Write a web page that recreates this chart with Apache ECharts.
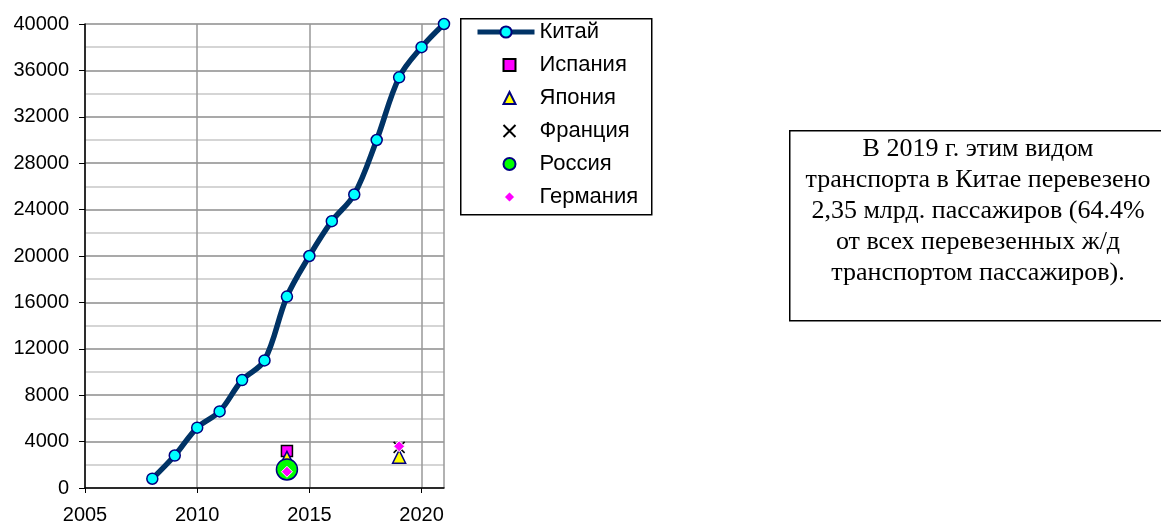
<!DOCTYPE html>
<html style="height: 100%">

<head>
    <meta charset="utf-8">
    <title>index</title>
    <style>
        html, body { margin: 0; padding: 0; background: #fff; }
        #container {
            width: 1161px;
            height: 525px;
        }
    </style>
</head>

<body>
    <div id="container"></div>
</body>
<script src="https://cdn.jsdelivr.net/npm/echarts@6/dist/echarts.min.js"></script>
<script type="text/javascript">
    // данные
    var years = [2008, 2009, 2010, 2011, 2012, 2013, 2014, 2015, 2016, 2017, 2018, 2019, 2020, 2021];
    var china = [800, 2800, 5200, 6600, 9300, 11000, 16500, 20000, 23000, 25300, 30000, 35400, 38000, 40000];

    // другие страны (2014 и 2019)
    var otherYears = [2014, 2019];
    var spain = [3200, null];
    var japan = [2600, 2700];
    var france = [null, 3500];
    var russia = [1600, null];
    var germany = [1400, 3600];

    var yTicks = [0, 40000, 4000];
    var xTicks = [2005, 2021, 5];

    var note = 'В 2019 г. этим видом\nтранспорта в Китае перевезено\n2,35 млрд. пассажиров (64.4%\nот всех перевезенных ж/д\nтранспортом пассажиров).';

    function pairs(xs, ys) {
        var out = [];
        for (var i = 0; i < xs.length; i++) {
            if (ys[i] != null) out.push([xs[i], ys[i]]);
        }
        return out;
    }

    var dom = document.getElementById("container");
    var myChart = echarts.init(dom, null, { renderer: 'canvas' });

    var font = '"Liberation Sans", Arial, sans-serif';
    var legendText = { fontFamily: font, fontSize: 22, color: '#000', lineHeight: 22 };

    var option = {
        animation: false,
        backgroundColor: '#fff',
        grid: { left: 85, right: 717, top: 24, bottom: 36 },
        // две легенды: линия отдельно, маркеры отдельно (разная ширина значка)
        legend: [
            {
                left: 475,
                top: 21,
                padding: 0,
                orient: 'vertical',
                itemWidth: 57,
                itemHeight: 14,
                lineStyle: { width: 5, color: '#003366' },
                textStyle: legendText,
                data: ['Китай']
            },
            {
                left: 501,
                top: 54,
                padding: 0,
                orient: 'vertical',
                itemWidth: 12,
                itemHeight: 12,
                itemGap: 11,
                textStyle: echarts.util.extend({ padding: [0, 0, 0, 19] }, legendText),
                data: ['Испания', 'Япония', 'Франция', 'Россия', 'Германия']
            }
        ],
        xAxis: {
            type: 'value',
            min: xTicks[0],
            max: xTicks[1],
            interval: xTicks[2],
            axisLine: { show: true, onZero: false, lineStyle: { color: '#000', width: 1.5 } },
            axisTick: { show: true, length: 5, lineStyle: { color: '#000' } },
            axisLabel: {
                fontFamily: font, fontSize: 20, color: '#000', margin: 17,
                showMaxLabel: false,
                formatter: function (v) { return String(v); }
            },
            splitLine: { show: true, lineStyle: { color: '#999', width: 1.5 } }
        },
        yAxis: {
            type: 'value',
            min: yTicks[0],
            max: yTicks[1],
            interval: yTicks[2],
            axisLine: { show: true, lineStyle: { color: '#000', width: 1.5 } },
            axisTick: { show: true, length: 6, lineStyle: { color: '#000' } },
            axisLabel: {
                fontFamily: font, fontSize: 20, color: '#000', margin: 16,
                formatter: function (v) { return String(v); }
            },
            splitLine: { show: true, lineStyle: { color: '#8c8c8c', width: 1.5 } },
            minorTick: { show: false, splitNumber: 2 },
            minorSplitLine: { show: true, lineStyle: { color: '#c8c8c8', width: 1.5 } }
        },
        series: [
            {
                name: 'Китай',
                type: 'line',
                smooth: 0.35,
                data: pairs(years, china),
                symbol: 'circle',
                symbolSize: 11,
                showAllSymbol: true,
                lineStyle: { color: '#003366', width: 5.5 },
                itemStyle: { color: '#00ffff', borderColor: '#000080', borderWidth: 1.5 }
            },
            {
                name: 'Испания',
                type: 'scatter',
                data: pairs(otherYears, spain),
                symbol: 'rect',
                symbolSize: 11,
                itemStyle: { color: '#ff00ff', borderColor: '#000', borderWidth: 1.5, opacity: 1 }
            },
            {
                name: 'Япония',
                type: 'scatter',
                data: pairs(otherYears, japan),
                symbol: 'triangle',
                symbolSize: 13,
                itemStyle: { color: '#ffff00', borderColor: '#000080', borderWidth: 1.5, opacity: 1 }
            },
            {
                name: 'Франция',
                type: 'scatter',
                data: pairs(otherYears, france),
                symbol: 'path://M0,0L10,10M10,0L0,10',
                symbolSize: 11,
                itemStyle: { color: 'none', borderColor: '#000', borderWidth: 1.5, opacity: 1 }
            },
            {
                name: 'Россия',
                type: 'scatter',
                data: pairs(otherYears, russia),
                symbol: 'circle',
                symbolSize: 21,
                itemStyle: { color: '#00ff00', borderColor: '#000080', borderWidth: 1.5, opacity: 1 }
            },
            {
                name: 'Германия',
                type: 'scatter',
                data: pairs(otherYears, germany),
                symbol: 'diamond',
                symbolSize: 11,
                itemStyle: { color: '#ff00ff', borderColor: '#fff', borderWidth: 1, opacity: 1 }
            }
        ],
        graphic: [
            // рамка легенды
            {
                type: 'rect',
                left: 460,
                top: 18,
                z: -1,
                shape: { width: 191, height: 196 },
                style: { fill: 'transparent', stroke: '#000', lineWidth: 1.5 }
            },
            {
                type: 'rect',
                left: 789,
                top: 130,
                shape: { width: 400, height: 190 },
                style: { fill: '#fff', stroke: '#000', lineWidth: 1.5 }
            },
            {
                type: 'text',
                x: 978,
                y: 211,
                style: {
                    text: note,
                    fontFamily: '"Liberation Serif", "Times New Roman", serif',
                    fontSize: 26,
                    lineHeight: 31,
                    fill: '#000',
                    align: 'center',
                    verticalAlign: 'middle'
                }
            }
        ]
    };

    if (option && typeof option === "object") {
        myChart.setOption(option, true);
    };
</script>

</html>
